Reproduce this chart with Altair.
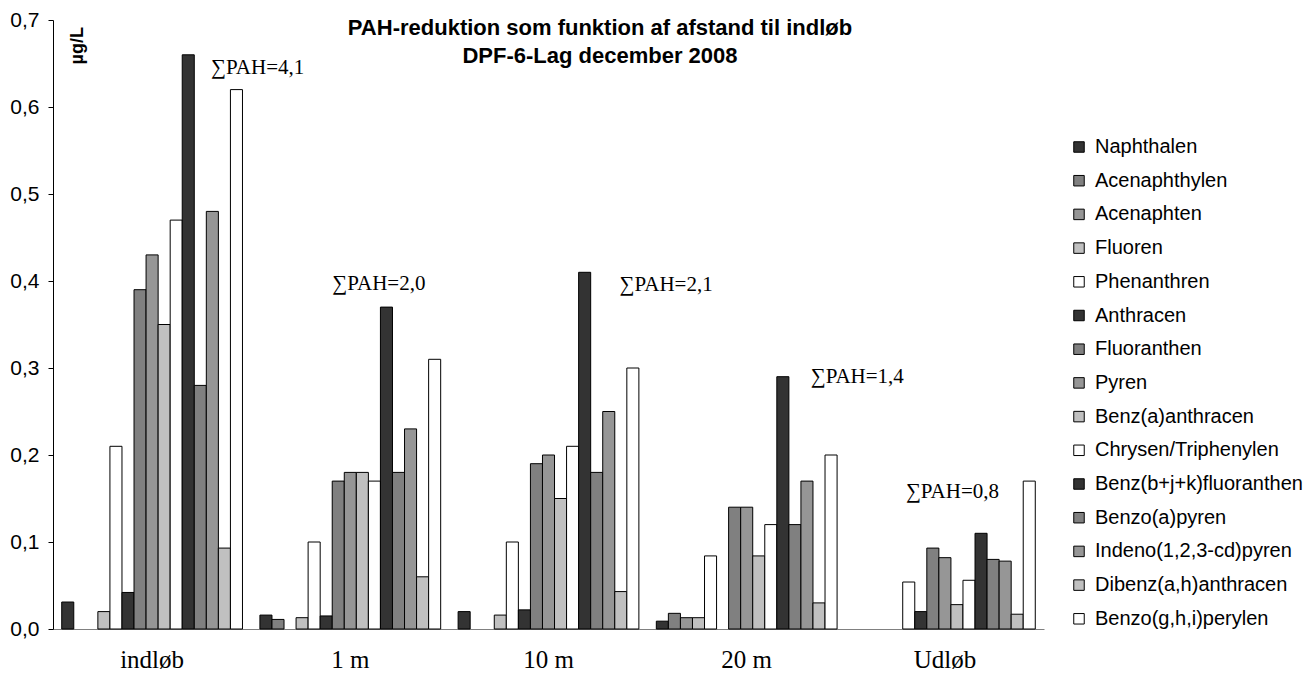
import altair as alt
import pandas as pd

groups = ["indløb", "1 m", "10 m", "20 m", "Udløb"]
compounds = ["Naphthalen", "Acenaphthylen", "Acenaphten", "Fluoren", "Phenanthren",
             "Anthracen", "Fluoranthen", "Pyren", "Benz(a)anthracen", "Chrysen/Triphenylen",
             "Benz(b+j+k)fluoranthen", "Benzo(a)pyren", "Indeno(1,2,3-cd)pyren",
             "Dibenz(a,h)anthracen", "Benzo(g,h,i)perylen"]
v_indlob = [0.031, 0, 0, 0.020, 0.21, 0.042, 0.39, 0.43, 0.35, 0.47, 0.66, 0.28, 0.48, 0.093, 0.62]
v_1m = [0.016, 0.011, 0, 0.013, 0.10, 0.015, 0.17, 0.18, 0.18, 0.17, 0.37, 0.18, 0.23, 0.060, 0.31]
v_10m = [0.020, 0, 0, 0.016, 0.10, 0.022, 0.19, 0.20, 0.15, 0.21, 0.41, 0.18, 0.25, 0.043, 0.30]
v_20m = [0.009, 0.018, 0.013, 0.013, 0.084, 0, 0.14, 0.14, 0.084, 0.12, 0.29, 0.12, 0.17, 0.030, 0.20]
v_udlob = [0, 0, 0, 0, 0.054, 0.020, 0.093, 0.082, 0.028, 0.056, 0.11, 0.080, 0.078, 0.017, 0.17]
shades = ["#333333", "#808080", "#969696", "#C0C0C0", "#FFFFFF"] * 3

ann_text = ["∑PAH=4,1", "∑PAH=2,0", "∑PAH=2,1", "∑PAH=1,4", "∑PAH=0,8"]
ann_y = [0.645, 0.397, 0.395, 0.29, 0.157]
ann_dx = [59, -18, 71, 64, -39]

title_lines = ["PAH-reduktion som funktion af afstand til indløb", "DPF-6-Lag december 2008"]

rows = []
for g, vals in zip(groups, [v_indlob, v_1m, v_10m, v_20m, v_udlob]):
    for c, v in zip(compounds, vals):
        if v > 0:
            rows.append({"group": g, "compound": c, "value": v})
df = pd.DataFrame(rows)

W, H = 991, 609

xenc = alt.X("group:N", sort=groups,
             scale=alt.Scale(domain=groups, paddingInner=0.088, paddingOuter=0.044),
             axis=alt.Axis(title=None, labelAngle=0, ticks=False, domainColor="#808080",
                           labelFont="Liberation Serif", labelFontSize=25, labelColor="black",
                           labelPadding=18))
yenc = alt.Y("value:Q", scale=alt.Scale(domain=[0, 0.7], nice=False),
             axis=alt.Axis(title=None, values=[0, 0.1, 0.2, 0.3, 0.4, 0.5, 0.6, 0.7],
                           labelExpr="replace(format(datum.value, '.1f'), '.', ',')",
                           grid=False, domainColor="black", tickColor="black", tickSize=5,
                           labelFont="Liberation Sans", labelFontSize=21, labelColor="black",
                           labelPadding=9))

bars = alt.Chart(df).mark_bar(stroke="black", strokeWidth=1, opacity=1).encode(
    x=xenc,
    xOffset=alt.XOffset("compound:N", sort=compounds,
                        scale=alt.Scale(domain=compounds, paddingInner=0, paddingOuter=0)),
    y=yenc,
    color=alt.Color("compound:N", sort=compounds,
                    scale=alt.Scale(domain=compounds, range=shades),
                    legend=alt.Legend(title=None, orient="none", legendX=1016, legendY=117,
                                      symbolType="square", symbolSize=110,
                                      symbolStrokeColor="black", symbolStrokeWidth=1,
                                      symbolOpacity=1, labelLimit=400,
                                      labelFont="Liberation Sans", labelFontSize=20,
                                      labelColor="black", rowPadding=13.7, labelOffset=6)),
)

layers = [bars]
for g, t, yv, dx in zip(groups, ann_text, ann_y, ann_dx):
    adf = pd.DataFrame({"group": [g], "value": [yv], "label": [t]})
    layers.append(
        alt.Chart(adf).mark_text(align="left", baseline="middle", dx=dx,
                                 font="Liberation Serif", fontSize=21, color="black")
        .encode(x=alt.X("group:N", sort=groups), y=alt.Y("value:Q"), text="label:N")
    )

for line, ty in zip(title_lines, [8, 36]):
    tdf = pd.DataFrame({"line": [line]})
    layers.append(
        alt.Chart(tdf).mark_text(align="center", baseline="middle", font="Liberation Sans",
                                 fontSize=22, fontWeight="bold", color="black")
        .encode(x=alt.value(547), y=alt.value(ty), text="line:N")
    )

unit = alt.Chart(pd.DataFrame({"t": ["µg/L"]})).mark_text(
    angle=270, align="right", baseline="middle", font="Liberation Sans", fontSize=18,
    fontWeight="bold", color="black").encode(x=alt.value(25), y=alt.value(7), text="t:N")
layers.append(unit)

chart = alt.layer(*layers).properties(
    width=W, height=H,
    autosize=alt.AutoSizeParams(type="none"),
    padding={"left": 45, "top": 12, "right": 260, "bottom": 52},
).configure_view(stroke=None)

chart.save("out.html", embed_options={"renderer": "svg", "actions": False})
